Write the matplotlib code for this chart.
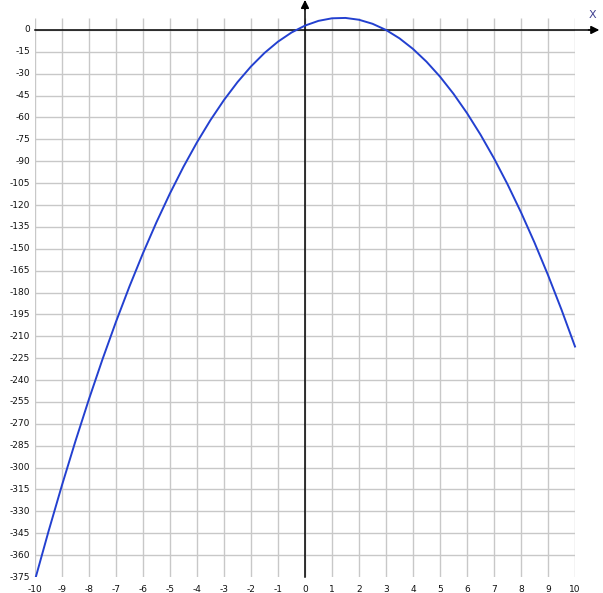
import matplotlib
matplotlib.use("Agg")
import matplotlib.pyplot as plt
import matplotlib.patches as mpatches
import numpy as np

# ---------------------------------------------------------------------------
# Data (curve values, every 0.5 on x)
# ---------------------------------------------------------------------------

X_VALUES = np.arange(-10, 10.01, 0.5)
Y_VALUES = [
    -377, -343.75, -312, -281.75, -253, -225.75, -200, -175.75, -153, -131.75,
    -112, -93.75, -77, -61.75, -48, -35.75, -25, -15.75, -8, -1.75,
    3, 6.25, 8, 8.25, 7, 4.25, 0, -5.75, -13, -21.75,
    -32, -43.75, -57, -71.75, -88, -105.75, -125, -145.75, -168, -191.75,
    -217,
]

X_TICKS = list(range(-10, 11))
Y_TICKS = list(range(0, -376, -15))

X_MIN, X_MAX = -10, 10
Y_MIN, Y_MAX = -375, 8

# ---------------------------------------------------------------------------
# Figure
# ---------------------------------------------------------------------------

W, H = 603, 593
fig = plt.figure(figsize=(W / 100, H / 100), dpi=100)
fig.patch.set_facecolor("white")

left_px, right_px = 35, 575
top_px, bottom_px = 18.3, 577
ax = fig.add_axes([left_px / W, 1 - bottom_px / H,
                   (right_px - left_px) / W, (bottom_px - top_px) / H])
ax.set_xlim(X_MIN, X_MAX)
ax.set_ylim(Y_MIN, Y_MAX)
for spine in ax.spines.values():
    spine.set_visible(False)
ax.set_xticks([])
ax.set_yticks([])

GRID = "#c8c8c8"
ax.vlines(X_TICKS, Y_MIN, Y_MAX, colors=GRID, linewidth=1.0, zorder=1)
ax.hlines([t for t in Y_TICKS if t > Y_MIN], X_MIN, X_MAX,
          colors=GRID, linewidth=1.0, zorder=1)

# axes with arrows
ax.plot([X_MIN, 10.7], [0, 0], color="black", linewidth=1.1, zorder=3, clip_on=False)
ax.plot([0, 0], [Y_MIN, 19], color="black", linewidth=1.1, zorder=3, clip_on=False)
ax.annotate("", xy=(10.9, 0), xytext=(10.5, 0),
            arrowprops=dict(arrowstyle="-|>", color="black", lw=1.1,
                            mutation_scale=12, shrinkA=0, shrinkB=0),
            annotation_clip=False, zorder=4)
ax.annotate("", xy=(0, 20.6), xytext=(0, 14),
            arrowprops=dict(arrowstyle="-|>", color="black", lw=1.1,
                            mutation_scale=12, shrinkA=0, shrinkB=0),
            annotation_clip=False, zorder=4)

ax.text(10.65, 10.3, "X", color="#404090", fontsize=8, ha="center", va="center",
        clip_on=False)
ax.text(0.48, 22.5, "Y", color="#6a2a8a", fontsize=8, ha="center", va="center",
        clip_on=False)

# curve: clipped at the bottom of the grid, but allowed above it at the peak
curve, = ax.plot(X_VALUES, Y_VALUES, color="#2340d0", linewidth=1.4, zorder=5)
clip_rect = mpatches.Rectangle((X_MIN - 1, Y_MIN), X_MAX - X_MIN + 2,
                               Y_MAX - Y_MIN + 20, transform=ax.transData)
curve.set_clip_path(clip_rect)

# tick labels
for t in X_TICKS:
    ax.text(t, Y_MIN - 5.5, str(t), ha="center", va="top", fontsize=6.5,
            color="#111111", clip_on=False)
for t in Y_TICKS:
    ax.text(X_MIN - 0.18, t, str(t), ha="right", va="center", fontsize=6.5,
            color="#111111", clip_on=False)

fig.savefig("out.png", dpi=100, facecolor="white")
